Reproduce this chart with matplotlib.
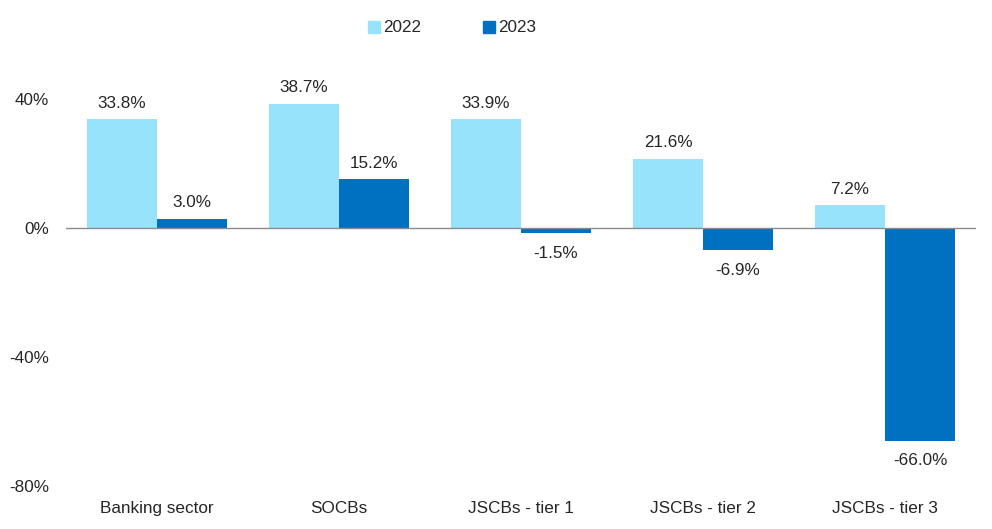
import numpy as np
import matplotlib
matplotlib.use("Agg")
import matplotlib.pyplot as plt
from matplotlib.patches import Patch

categories = ["Banking sector", "SOCBs", "JSCBs - tier 1", "JSCBs - tier 2", "JSCBs - tier 3"]
vals_2022 = [33.8, 38.7, 33.9, 21.6, 7.2]
vals_2023 = [3.0, 15.2, -1.5, -6.9, -66.0]
yticks = [40, 0, -40, -80]

LIGHT, DARK, INK, AXIS = "#97E3FC", "#0070C0", "#262626", "#8C8C8C"
plt.rcParams.update({"font.family": ["Liberation Sans", "DejaVu Sans"], "font.size": 12.3,
                     "text.color": INK, "xtick.color": INK, "ytick.color": INK})

fig = plt.figure(figsize=(9.92, 5.29), dpi=100)
ax = fig.add_axes([66 / 992, 43 / 529, 910 / 992, 435 / 529])

x = np.arange(len(categories))
w = 0.385
b1 = ax.bar(x - w / 2, vals_2022, w, color=LIGHT, label="2022")
b2 = ax.bar(x + w / 2, vals_2023, w, color=DARK, label="2023")

for bars, vals in ((b1, vals_2022), (b2, vals_2023)):
    for r, v in zip(bars, vals):
        off = 6 if v >= 0 else -9
        ax.annotate(f"{v:.1f}%", (r.get_x() + r.get_width() / 2, v), xytext=(0, off),
                    textcoords="offset points", ha="center",
                    va="bottom" if v >= 0 else "top")

ax.set_xlim(-0.5, len(categories) - 0.5)
ax.set_ylim(-80, 55)
ax.set_yticks(yticks)
ax.set_yticklabels([f"{t}%" for t in yticks])
ax.set_xticks(x)
ax.set_xticklabels(categories)
ax.tick_params(axis="y", length=0, pad=12)
ax.tick_params(axis="x", length=0, pad=11)
for s in ax.spines.values():
    s.set_visible(False)
ax.axhline(0, color=AXIS, lw=1)

fig.legend(handles=[Patch(color=LIGHT, label="2022"), Patch(color=DARK, label="2023")],
           loc="center", bbox_to_anchor=(452 / 992, 1 - 28 / 529), ncol=2, frameon=False,
           handlelength=0.7, handleheight=0.7, handletextpad=0.2, columnspacing=3.6,
           fontsize=12.3)

fig.savefig("out.png", dpi=100)
